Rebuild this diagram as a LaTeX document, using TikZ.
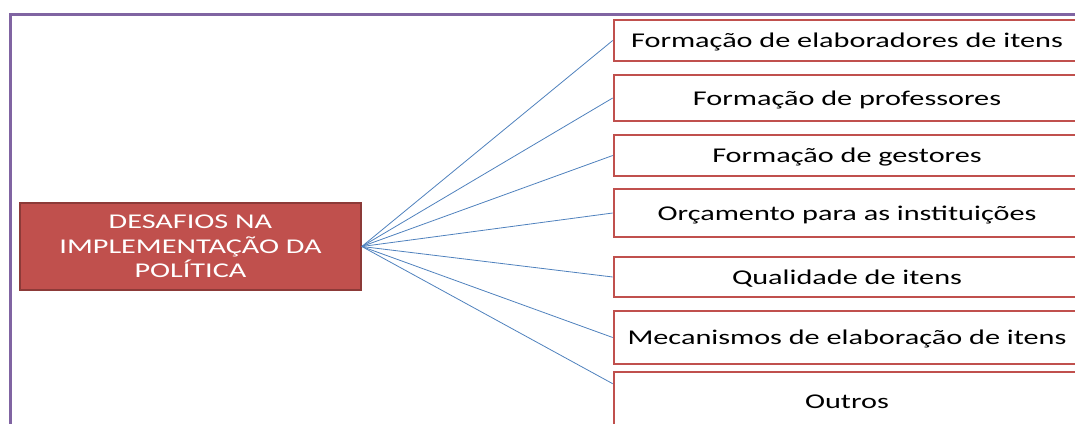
\documentclass[tikz,border=0pt]{standalone}
\usepackage{fontspec}
\setmainfont{Carlito}[FakeStretch=1.44]
\definecolor{framepurple}{HTML}{8064A2}
\definecolor{boxred}{HTML}{C0504D}
\definecolor{boxedge}{HTML}{8C3A38}
\definecolor{linkblue}{HTML}{4F81BD}
\tikzset{
  mainbox/.style={draw=boxedge, line width=1.6pt, fill=boxred, text=white,
    minimum width=341pt, minimum height=87pt, align=center, inner sep=0pt,
    font=\fontsize{21}{24.5}\selectfont},
  itembox/.style={draw=boxred, line width=2.6pt, fill=white, text=black,
    minimum width=466pt, align=center, inner sep=0pt, text depth=0pt,
    font=\fontsize{21}{24.5}\selectfont},
  link/.style={draw=linkblue, line width=0.8pt},
  frameline/.style={draw=framepurple, line width=2.8pt}
}
\begin{document}
\begin{tikzpicture}[x=1pt,y=-1pt]
\useasboundingbox (0,0) rectangle (1075,423);
\clip (0,0) rectangle (1075,423);
\draw[frameline] (10.5,440) -- (10.5,14.3) -- (1090,14.3);
\node[mainbox] (c) at (190.5,246.5) {DESAFIOS NA\\IMPLEMENTAÇÃO DA\\POLÍTICA};
\node[itembox, minimum height=41pt] (b1) at (847,40.5) {Formação de elaboradores de itens};
\node[itembox, minimum height=46pt] (b2) at (847,98) {Formação de professores};
\node[itembox, minimum height=41pt] (b3) at (847,155.5) {Formação de gestores};
\node[itembox, minimum height=48pt] (b4) at (847,213) {Orçamento para as instituições};
\node[itembox, minimum height=40pt] (b5) at (847,277) {Qualidade de itens};
\node[itembox, minimum height=53pt] (b6) at (847,337.5) {Mecanismos de elaboração de itens};
\node[itembox, minimum height=60pt] (b7) at (847,402) {Outros};
\foreach \b in {b1,b2,b3,b4,b5,b6}{
  \draw[link] (c.east) -- (\b.west);
}
\draw[link] (c.east) -- ([yshift=-13pt]b7.north west);
\end{tikzpicture}
\end{document}
